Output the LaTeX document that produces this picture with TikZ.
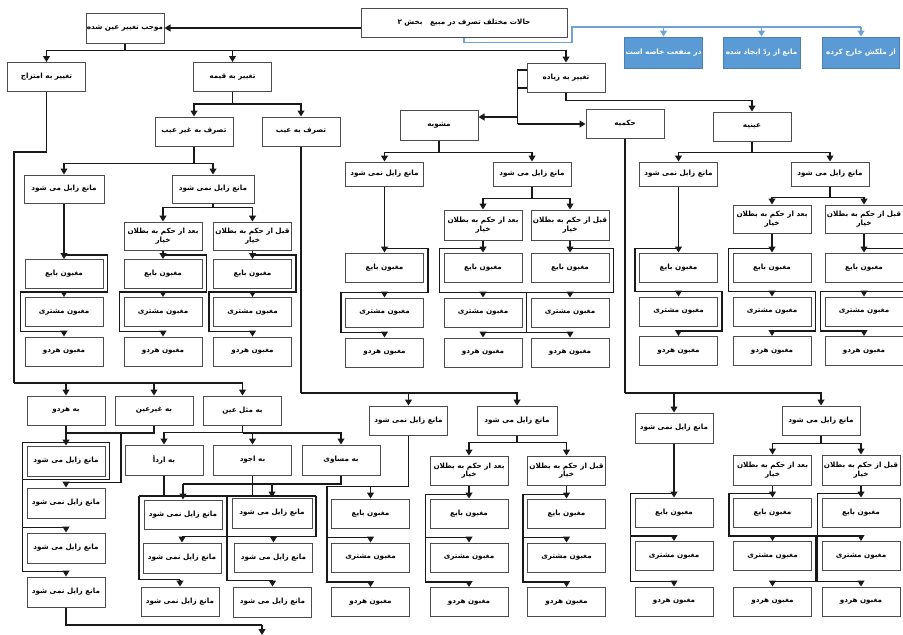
\documentclass[tikz,border=0pt]{standalone}
\usepackage{fontspec}
\newfontfamily\arabicfont[Script=Arabic]{DejaVu Sans}
\TeXXeTstate=1
\usetikzlibrary{arrows.meta,calc}
\definecolor{bfill}{HTML}{5B9BD5}
\definecolor{bdraw}{HTML}{4A7FB0}
\definecolor{bline}{HTML}{6FA3D8}
\newcommand\rl[1]{\beginR #1\endR}
\newcommand\tmi{\rl{مانع زایل می شود}}
\newcommand\tnm{\rl{مانع زایل نمی شود}}
\newcommand\tqb{\rl{قبل از حکم به بطلان}\\\rl{خیار}}
\newcommand\tbd{\rl{بعد از حکم به بطلان}\\\rl{خیار}}
\newcommand\trio[5]{%
 \node[bx] (#1b) at (#2,#3) {\rl{مغبون بایع}};
 \node[bx] (#1m) at (#2,#4) {\rl{مغبون مشتری}};
 \node[bx] (#1h) at (#2,#5) {\rl{مغبون هردو}};}
\newcommand\zigR[1]{%
 \draw[ln] ($(#1b.north)+(0,-4)$) -| ($(#1m.north east)+(4,-5)$) -- ($(#1m.north west)+(-4,-5)$) |- ($(#1h.north)+(0,-5)$);
 \draw[arr] ($(#1m.north)+(0,-5)$) -- (#1m.north);
 \draw[arr] ($(#1h.north)+(0,-5)$) -- (#1h.north);}
\newcommand\zigL[1]{%
 \draw[ln] ($(#1b.north)+(0,-4)$) -| ($(#1m.north west)+(-4,-5)$) -- ($(#1m.north east)+(4,-5)$) |- ($(#1h.north)+(0,-5)$);
 \draw[arr] ($(#1m.north)+(0,-5)$) -- (#1m.north);
 \draw[arr] ($(#1h.north)+(0,-5)$) -- (#1h.north);}
\newcommand\colbrk[2]{%
 \draw[ln] ($(#1b.north)+(0,-#2)$) -| ($(#1h.north west)+(-4,-5)$) -- ($(#1h.north)+(0,-5)$);
 \draw[ln] ($(#1m.north west)+(-4,-5)$) -- ($(#1m.north)+(0,-5)$);
 \draw[arr] ($(#1m.north)+(0,-5)$) -- (#1m.north);
 \draw[arr] ($(#1h.north)+(0,-5)$) -- (#1h.north);}
\begin{document}
\begin{tikzpicture}[x=1pt,y=-1pt,
 bx/.style={draw=black!70, line width=1pt, fill=white, minimum width=78pt, minimum height=29pt, inner sep=0.5pt, align=center, font=\arabicfont\bfseries\fontsize{7.2}{8.6}\selectfont},
 bbx/.style={bx, fill=bfill, draw=bdraw, text=white, minimum width=77pt, minimum height=31pt},
 ln/.style={line width=1.1pt, draw=black!90},
 arr/.style={ln, -{Triangle[length=6pt,width=7pt]}},
 bln/.style={line width=1.2pt, draw=bline},
 barr/.style={bln, -{Triangle[length=6pt,width=7pt]}}]
\fill[white] (0,0) rectangle (903,635);
\useasboundingbox (0,0) rectangle (903,635);

% ---------- top ----------
\node[bx, minimum width=206pt] (title) at (464,22.5) {\rl{حالات مختلف تصرف در مبیع \ \ بخش ۲}};
\node[bx, minimum height=30pt] (mojeb) at (125,28) {\rl{موجب تغییر عین شده}};
\node[bbx] (bl1) at (663.5,52.5) {\rl{در منفعت خاصه است}};
\node[bbx] (bl2) at (761.5,52.5) {\rl{مانع از ردّ ایجاد شده}};
\node[bbx] (bl3) at (861,52.5) {\rl{از ملکش خارج کرده}};
\node[bx] (emtezaj) at (46.5,77) {\rl{تغییر به امتزاج}};
\node[bx] (qimeh) at (232.5,77) {\rl{تغییر به قیمه}};
\node[bx] (ziadeh) at (566,77.5) {\rl{تغییر به زیاده}};
\node[bx] (gheyb) at (194,131.5) {\rl{تصرف به غیر عیب}};
\node[bx] (eyb) at (301,131.5) {\rl{تصرف به عیب}};
\node[bx, minimum height=30pt] (mashub) at (439,125) {\rl{مشوبه}};
\node[bx] (hokmi) at (625,123.5) {\rl{حکمیه}};
\node[bx] (eyni) at (752,126.5) {\rl{عینیه}};

% ---------- gheyb group ----------
\node[bx, minimum width=80pt, minimum height=28pt] (gmi) at (64,189) {\tmi};
\node[bx, minimum width=82pt, minimum height=28pt] (gnm) at (213,189) {\tnm};
\node[bx, minimum height=28pt] (gbad) at (163,236) {\tbd};
\node[bx, minimum height=28pt] (gqabl) at (252.5,236) {\tqb};
\trio{gA}{64}{274}{312}{351.5}
\trio{gB}{163}{274}{312}{351.5}
\trio{gC}{252.5}{274}{312}{351.5}

% ---------- mashub group ----------
\node[bx, minimum height=24pt] (mnm) at (384.5,174) {\tnm};
\node[bx, minimum height=24pt] (mmi) at (532,174) {\tmi};
\node[bx, minimum height=30pt] (mbad) at (483,225) {\tbd};
\node[bx, minimum height=30pt] (mqabl) at (570,225) {\tqb};
\trio{mA}{384.5}{267.5}{312.5}{352.5}
\trio{mB}{483}{267.5}{312.5}{352.5}
\trio{mC}{570}{267.5}{312.5}{352.5}

% ---------- eyni group ----------
\node[bx, minimum height=24pt] (enm) at (678.5,174) {\tnm};
\node[bx, minimum height=24pt] (emi) at (830,174) {\tmi};
\node[bx, minimum height=28pt] (ebad) at (772,219) {\tbd};
\node[bx, minimum height=28pt] (eqabl) at (864,219) {\tqb};
\trio{eA}{678.5}{267.5}{311.5}{351}
\trio{eB}{772}{267.5}{311.5}{351}
\trio{eC}{864}{267.5}{311.5}{351}

% ---------- eyb lower group ----------
\node[bx] (bnm) at (408.5,420.5) {\tnm};
\node[bx, minimum width=80pt] (bmi) at (517,420.5) {\tmi};
\node[bx] (bbad) at (469,470.5) {\tbd};
\node[bx] (bqabl) at (566.5,470.5) {\tqb};
\trio{bA}{370.5}{513.5}{557.5}{602}
\trio{bB}{469}{513.5}{557.5}{602}
\trio{bC}{566.5}{513.5}{557.5}{602}

% ---------- hokmi lower group ----------
\node[bx, minimum height=30pt] (knm) at (674,428) {\tnm};
\node[bx] (kmi) at (821,420.5) {\tmi};
\node[bx, minimum height=30pt] (kbad) at (772.5,470) {\tbd};
\node[bx, minimum height=30pt] (kqabl) at (861,470) {\tqb};
\trio{kA}{674}{512.5}{556}{601.5}
\trio{kB}{772.5}{512.5}{556}{601.5}
\trio{kC}{861}{512.5}{556}{601.5}

% ---------- lower left ----------
\node[bx] (lhardo) at (66,410.5) {\rl{به هردو}};
\node[bx] (lgheyr) at (154,410.5) {\rl{به غیرعین}};
\node[bx] (lmesl) at (242.5,410.5) {\rl{به مثل عین}};
\node[bx, minimum height=30pt] (larda) at (164,460) {\rl{به اردأ}};
\node[bx, minimum height=30pt] (lajwad) at (252.5,460) {\rl{به اجود}};
\node[bx, minimum height=30pt] (lmosavi) at (341,460) {\rl{به مساوی}};
\node[bx, minimum height=30pt] (lc1) at (66,461) {\tmi};
\node[bx, minimum height=30pt] (lc2) at (66,503) {\tnm};
\node[bx, minimum height=30pt] (lc3) at (66,548) {\tmi};
\node[bx, minimum height=30pt] (lc4) at (66,592) {\tnm};
\node[bx] (a1) at (183,514.5) {\tnm};
\node[bx, minimum height=30pt] (a2) at (182,558) {\tnm};
\node[bx] (a3) at (180,601.5) {\tnm};
\node[bx, minimum width=80pt, minimum height=30pt] (j1) at (272,513) {\tmi};
\node[bx] (j2) at (273.5,557.5) {\tmi};
\node[bx, minimum height=30pt] (j3) at (272.5,602) {\tmi};

% ================= connectors =================
\draw[arr] (title.west |- mojeb.east) -- (mojeb.east);
\draw[ln] (mojeb.south) -- ++(0,7) coordinate (mj);
\draw[arr] (mj) -| (emtezaj.north);
\draw[arr] (mj) -| (ziadeh.north);
\draw[arr] (qimeh.north |- mj) -- (qimeh.north);

\coordinate (bA) at (572,27);
\draw[bln] (title.south) -- ++(0,5) -| (bA) -- (bA -| bl3.north);
\foreach \n in {bl1,bl2,bl3} \draw[barr] (bA -| \n.north) -- (\n.north);

\draw[ln] ($(ziadeh.west)+(0,-7.5)$) -- ++(-9,0) coordinate (z1) -- ++(0,54) coordinate (z3);
\draw[ln] ($(ziadeh.west)+(0,10.5)$) -- ++(-9,0);
\draw[arr] ($(z1)+(0,47)$) coordinate (z2) -- (z2 -| mashub.east);
\draw[arr] (z3) -- (z3 -| hokmi.west);
\draw[arr] (ziadeh.south) -- ++(0,8) -| (eyni.north);

\draw[ln] (qimeh.south) -- ++(0,12) coordinate (q1);
\draw[arr] (q1) -| (gheyb.north);
\draw[arr] (q1) -| (eyb.north);

\coordinate (ez) at (14,383);
\draw[ln] (emtezaj.south) -- ++(0,60) -| (ez);
\draw[arr] (ez) -| (lmesl.north);
\draw[arr] (ez -| lhardo.north) -- (lhardo.north);
\draw[arr] (ez -| lgheyr.north) -- (lgheyr.north);

% gheyb
\draw[ln] (gheyb.south) -- ++(0,17) coordinate (g1);
\draw[arr] (g1) -| (gmi.north);
\draw[arr] (g1) -| (gnm.north);
\draw[ln] (gnm.south) -- ++(0,4) coordinate (g2);
\draw[arr] (g2) -| (gbad.north);
\draw[arr] (g2) -| (gqabl.north);
\draw[arr] (gmi.south) -- (gAb.north);
\draw[arr] (gbad.south) -- (gBb.north);
\draw[arr] (gqabl.south) -- (gCb.north);
\zigR{gA}\zigR{gB}\zigR{gC}

% mashub
\draw[ln] (mashub.south) -- ++(0,12) coordinate (m1);
\draw[arr] (m1) -| (mnm.north);
\draw[arr] (m1) -| (mmi.north);
\draw[ln] (mmi.south) -- ++(0,12) coordinate (m2);
\draw[arr] (m2) -| (mbad.north);
\draw[arr] (m2) -| (mqabl.north);
\draw[arr] (mnm.south) -- (mAb.north);
\draw[arr] (mbad.south) -- (mBb.north);
\draw[arr] (mqabl.south) -- (mCb.north);
\zigR{mA}\zigL{mB}\zigR{mC}

% eyni
\draw[ln] (eyni.south) -- ++(0,11) coordinate (e1);
\draw[arr] (e1) -| (enm.north);
\draw[arr] (e1) -| (emi.north);
\draw[ln] (emi.south) -- ++(0,11) coordinate (e2);
\draw[arr] (e2) -| (ebad.north);
\draw[arr] (e2) -| (eqabl.north);
\draw[arr] (enm.south) -- (eAb.north);
\draw[arr] (ebad.south) -- (eBb.north);
\draw[arr] (eqabl.south) -- (eCb.north);
\zigL{eA}\zigL{eB}\zigR{eC}

% eyb
\coordinate (y1) at (301,393);
\draw[ln] (eyb.south) -- (y1);
\draw[arr] (y1) -| (bmi.north);
\draw[arr] (y1 -| bnm.north) -- (bnm.north);
\draw[ln] (bmi.south) -- ++(0,7) coordinate (y2);
\draw[arr] (y2) -| (bbad.north);
\draw[arr] (y2) -| (bqabl.north);
\draw[ln] (bnm.south) |- ($(bAb.north)+(0,-12)$);
\draw[arr] ($(bAb.north)+(0,-12)$) -- (bAb.north);
\colbrk{bA}{12}
\draw[arr] (bbad.south) -- (bBb.north);
\colbrk{bB}{4}
\draw[arr] (bqabl.south) -- (bCb.north);
\colbrk{bC}{4}

% hokmi
\coordinate (k1) at (625,393);
\draw[ln] (hokmi.south) -- (k1);
\draw[arr] (k1) -| (kmi.north);
\draw[arr] (k1 -| knm.north) -- (knm.north);
\draw[ln] (kmi.south) -- ++(0,8) coordinate (k2);
\draw[arr] (k2) -| (kbad.north);
\draw[arr] (k2) -| (kqabl.north);
\draw[arr] (knm.south) -- (kAb.north);
\colbrk{kA}{4}
\draw[arr] (kbad.south) -- (kBb.north);
\zigL{kB}
\draw[arr] (kqabl.south) -- (kCb.north);
\colbrk{kC}{4}

% lower left column
\coordinate (h1) at (0,433);
\draw[ln] (lgheyr.south) |- (lhardo.south |- h1);
\draw[arr] (lhardo.south) -- (lc1.north);
\coordinate (h2) at (121,433);
\draw[ln] (h2) |- ($(lc2.north)+(0,-5)$);
\draw[arr] ($(lc2.north)+(0,-5)$) -- (lc2.north);
\draw[ln] ($(lc1.north west)+(-4,-3)$) rectangle ($(lc1.south east)+(4,3)$);
\draw[ln] ($(lc1.north west)+(-4,-3)$) |- ($(lc4.north)+(0,-5)$);
\draw[ln] ($(lc3.north west)+(-4,-5)$) -- ($(lc3.north)+(0,-5)$);
\draw[arr] ($(lc3.north)+(0,-5)$) -- (lc3.north);
\draw[arr] ($(lc4.north)+(0,-5)$) -- (lc4.north);
\coordinate (endp) at (262,635);
\draw[ln] (lc4.south) |- ($(endp)+(0,-10)$);
\draw[arr] ($(endp)+(0,-10)$) -- (endp);

% mesl
\coordinate (s1) at (0,433);
\draw[arr] (lmesl.south) |- ($(larda.north)+(0,-12)$) -- (larda.north);
\draw[arr] (lmesl.south |- s1) -| (lmosavi.north);
\draw[arr] (lajwad.north |- s1) -- (lajwad.north);

% arda / ajwad
\coordinate (r1) at (0,484);
\draw[ln] (lmosavi.south) |- (a1.north |- r1);
\draw[arr] (a1.north |- r1) -- (a1.north);
\draw[arr] (j1.north |- r1) -- (j1.north);
\coordinate (r2) at (139,496);
\coordinate (r3) at (316,496);
\coordinate (r4) at (227,496);
\draw[ln] (r2) -- (r3);
\draw[ln] (larda.south) -- (larda.south |- r2);
\draw[ln] (lajwad.south) -- (lajwad.south |- r2);
\path ($(a2.north)+(0,-6)$) coordinate (r5);
\draw[ln] (r3) |- (r5);
\draw[arr] (r5) -- (a2.north);
\draw[arr] (j2.north |- r5) -- (j2.north);
\draw[ln] (r2) |- ($(a3.north)+(0,-7)$);
\draw[arr] ($(a3.north)+(0,-7)$) -- (a3.north);
\draw[ln] (r4) |- ($(j3.north)+(0,-6)$);
\draw[arr] ($(j3.north)+(0,-6)$) -- (j3.north);
\end{tikzpicture}
\end{document}
